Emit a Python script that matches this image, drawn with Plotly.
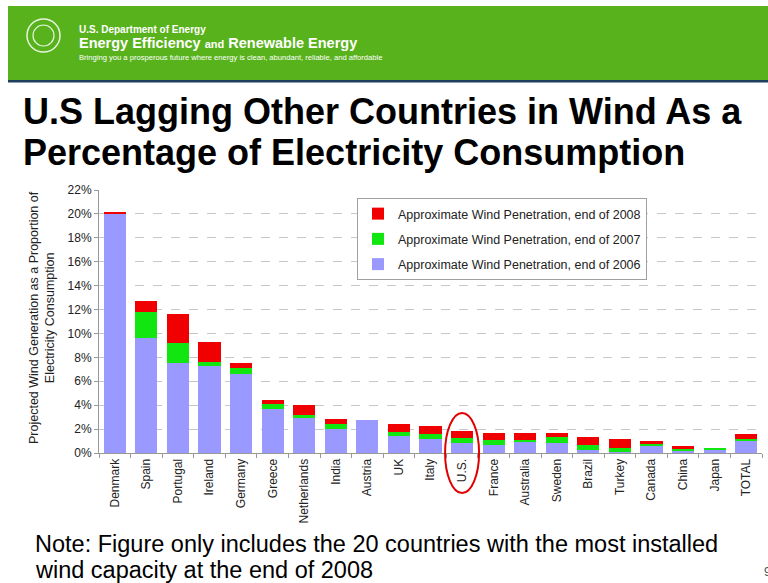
import plotly.graph_objects as go

countries = ["Denmark", "Spain", "Portugal", "Ireland", "Germany", "Greece", "Netherlands",
             "India", "Austria", "UK", "Italy", "U.S.", "France", "Australia", "Sweden",
             "Brazil", "Turkey", "Canada", "China", "Japan", "TOTAL"]
pen_2006 = [20.0, 9.6, 7.5, 7.3, 6.65, 3.7, 2.95, 2.0, 2.75, 1.45, 1.2, 0.8, 0.7, 0.95, 0.8,
            0.25, 0.1, 0.6, 0.2, 0.3, 1.05]
add_2007 = [0.0, 2.2, 1.7, 0.35, 0.5, 0.4, 0.25, 0.4, 0.0, 0.3, 0.4, 0.45, 0.4, 0.1, 0.5,
            0.4, 0.35, 0.15, 0.15, 0.12, 0.15]
add_2008 = [0.17, 0.9, 2.45, 1.6, 0.4, 0.35, 0.85, 0.45, 0.0, 0.7, 0.65, 0.6, 0.55, 0.6, 0.4,
            0.65, 0.7, 0.25, 0.25, 0.0, 0.35]
y_ticks = [0, 2, 4, 6, 8, 10, 12, 14, 16, 18, 20, 22]
y_labels = [f"{v}%" for v in y_ticks]
series_names = ["Approximate Wind Penetration, end of 2006",
                "Approximate Wind Penetration, end of 2007",
                "Approximate Wind Penetration, end of 2008"]
colors = ["#9999FF", "#11E611", "#F00000"]
legend_ranks = [3, 2, 1]
highlight = "U.S."

W_FIG, H_FIG = 768, 583
PL, PR, PT, PB = 99, 762, 190, 453
PW, PH = PR - PL, PB - PT


def px(x):
    return (x - PL) / PW


def py(y):
    return (PB - y) / PH


SANS = "Liberation Sans, Arial, sans-serif"

fig = go.Figure()
for name, vals, col, rk in zip(series_names, [pen_2006, add_2007, add_2008], colors, legend_ranks):
    fig.add_trace(go.Bar(x=countries, y=vals, name=name, marker_color=col,
                         marker_line_width=0, legendgroup=name, legendrank=rk))

shapes = []
# green banner
shapes.append(dict(type="rect", xref="paper", yref="paper", x0=px(8), x1=px(768),
                   y0=py(80), y1=py(6), fillcolor="#58B21C", line_width=0, layer="below"))
shapes.append(dict(type="rect", xref="paper", yref="paper", x0=px(8), x1=px(768),
                   y0=py(82.5), y1=py(80), fillcolor="#1C3F5E", line_width=0, layer="below"))
# logo
shapes.append(dict(type="circle", xref="paper", yref="paper", x0=px(27), x1=px(60),
                   y0=py(52), y1=py(19), line=dict(color="rgba(255,255,255,0.85)", width=1.5)))
shapes.append(dict(type="circle", xref="paper", yref="paper", x0=px(33), x1=px(54),
                   y0=py(46), y1=py(25), line=dict(color="rgba(255,255,255,0.85)", width=1.2)))
# highlight ellipse around U.S.
i = countries.index(highlight)
cx = PL + (i + 0.5) * PW / len(countries)
shapes.append(dict(type="circle", xref="paper", yref="paper", x0=px(cx - 17), x1=px(cx + 17),
                   y0=py(493), y1=py(413), line=dict(color="#E00000", width=2)))

ann = []
ann.append(dict(text="<b>U.S. Department of Energy</b>", x=px(77), y=py(29), xanchor="left",
                yanchor="middle", font=dict(family=SANS, size=10, color="white")))
ann.append(dict(text="<b>Energy Efficiency</b> <b><span style='font-size:11px'>and</span></b> <b>Renewable Energy</b>",
                x=px(77), y=py(43), xanchor="left", yanchor="middle",
                font=dict(family=SANS, size=14.5, color="white")))
ann.append(dict(text="Bringing you a prosperous future where energy is clean, abundant, reliable, and affordable",
                x=px(77), y=py(58), xanchor="left", yanchor="middle",
                font=dict(family=SANS, size=7.6, color="white")))
ann.append(dict(text="<b>U.S Lagging Other Countries in Wind As a</b>", x=px(21), y=py(112),
                xanchor="left", yanchor="middle", font=dict(family=SANS, size=36, color="black")))
ann.append(dict(text="<b>Percentage of Electricity Consumption</b>", x=px(21), y=py(152),
                xanchor="left", yanchor="middle", font=dict(family=SANS, size=36, color="black")))
ann.append(dict(text="Projected Wind Generation as a Proportion of<br>Electricity Consumption",
                x=px(42), y=py(318), xanchor="center", yanchor="middle", textangle=-90,
                font=dict(family=SANS, size=12.5, color="#222")))
ann.append(dict(text="Note: Figure only includes the 20 countries with the most installed",
                x=px(33), y=py(544), xanchor="left", yanchor="middle",
                font=dict(family=SANS, size=23.5, color="black")))
ann.append(dict(text="wind capacity at the end of 2008",
                x=px(33), y=py(570), xanchor="left", yanchor="middle",
                font=dict(family=SANS, size=23.5, color="black")))
ann.append(dict(text="9", x=px(762), y=py(572), xanchor="left", yanchor="middle",
                font=dict(family=SANS, size=12, color="#555")))
for a in ann:
    a.update(xref="paper", yref="paper", showarrow=False)

fig.update_layout(
    width=W_FIG, height=H_FIG, autosize=False,
    margin=dict(l=PL, r=W_FIG - PR, t=PT, b=H_FIG - PB, pad=0),
    paper_bgcolor="white", plot_bgcolor="white",
    barmode="stack", bargap=0.3,
    font=dict(family=SANS, size=12.5, color="#222"),
    showlegend=True,
    legend=dict(x=px(357), y=py(198), xanchor="left", yanchor="top",
                traceorder="grouped", tracegroupgap=6,
                bgcolor="white", bordercolor="#A0A0A0", borderwidth=1,
                font=dict(family=SANS, size=12.5, color="#222")),
    xaxis=dict(type="category", showline=True, linecolor="#999", linewidth=1,
               ticks="outside", ticklen=4, tickcolor="#999", tickson="boundaries",
               tickangle=-90, tickfont=dict(family=SANS, size=12, color="#222"),
               showgrid=False),
    yaxis=dict(range=[0, 22], tickvals=y_ticks, ticktext=y_labels, showline=True,
               linecolor="#999", linewidth=1, ticks="outside", ticklen=4, tickcolor="#999",
               showgrid=True, gridcolor="#C8C8C8", griddash="dash", gridwidth=1,
               zeroline=False, tickfont=dict(family=SANS, size=12, color="#222")),
    shapes=shapes, annotations=ann,
)

fig.write_html("out.html")
